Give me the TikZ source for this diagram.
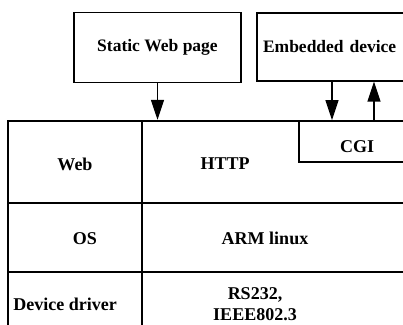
\documentclass[tikz,border=0pt]{standalone}
\usepackage{fontspec}
\setmainfont{Liberation Serif}
\usetikzlibrary{arrows.meta}
\begin{document}
\begin{tikzpicture}[x=1pt,y=-1pt,
  txt/.style={font=\fontsize{17.5}{20}\selectfont\bfseries,align=center},
  ltxt/.style={font=\fontsize{18}{20.5}\selectfont\bfseries,align=center},
  box/.style={draw,line width=1.8pt,rectangle,inner sep=0pt,txt},
  cell/.style={draw,line width=2.4pt,rectangle,inner sep=0pt},
  arr/.style={line width=1.3pt,-{Triangle[length=20pt,width=13pt]}}]
\useasboundingbox (0,0) rectangle (403,324);
\clip (0,0) rectangle (403,324);

% upper boxes
\node[box,minimum width=167pt,minimum height=70pt] (static) at (157.5,47.5) {Static Web page};
\node[box,minimum width=162pt,minimum height=68pt,text width=150pt,inner xsep=6pt,align=left]
  (emb) at (338,46.7) {Embedded device};

% layered table
\node[cell,minimum width=134pt,minimum height=82pt,label={[ltxt,yshift=-2pt]center:Web}] (webcell) at (75,162) {};
\node[cell,minimum width=278pt,minimum height=82pt,label={[ltxt,xshift=-56pt,yshift=-2pt]center:HTTP}] (httpcell) at (281,162) {};
\node[cell,minimum width=134pt,minimum height=69pt,label={[ltxt,xshift=10pt,yshift=-1pt]center:OS}] (oscell) at (75,237.5) {};
\node[cell,minimum width=278pt,minimum height=69pt,label={[ltxt,xshift=-16pt,yshift=-1pt]center:ARM linux}] (armcell) at (281,237.5) {};
\node[cell,minimum width=134pt,minimum height=68pt,label={[ltxt,xshift=-10pt,yshift=2pt]center:Device driver}] (drvcell) at (75,306) {};
\node[cell,minimum width=278pt,minimum height=68pt,label={[ltxt,xshift=-26pt,yshift=2pt]center:RS232,\\IEEE802.3}] (phycell) at (281,306) {};

% CGI block inside the HTTP layer
\node[box,minimum width=116pt,minimum height=41pt,label={[ltxt,yshift=-5pt]center:CGI}] (cgi) at (357,141.5) {};

% connectors
\draw[arr] (static.south) -- (static.south |- httpcell.north);
\coordinate (dn) at ([xshift=-25pt]cgi.north);
\coordinate (up) at ([xshift=17pt]cgi.north);
\draw[arr] (dn |- emb.south) -- (dn);
\draw[arr] (up) -- (up |- emb.south);
\end{tikzpicture}
\end{document}
